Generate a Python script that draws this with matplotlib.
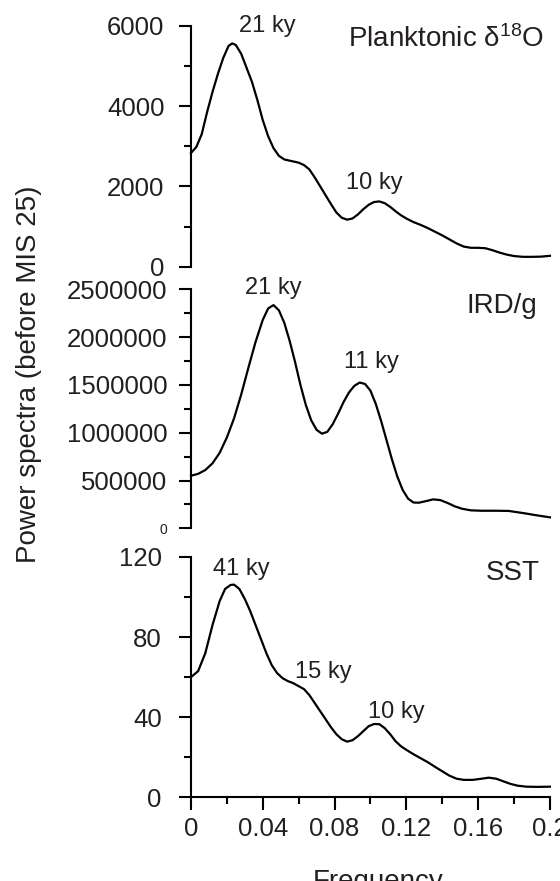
import numpy as np
import matplotlib
matplotlib.use("Agg")
import matplotlib.pyplot as plt
import matplotlib.ticker as ticker

plt.rcParams['font.family'] = ['Liberation Sans', 'DejaVu Sans']
plt.rcParams['mathtext.fontset'] = 'custom'
plt.rcParams['mathtext.rm'] = 'Liberation Sans'
plt.rcParams['mathtext.it'] = 'Liberation Sans'

TXT = '#231f20'

# Planktonic d18O power spectrum
freq_d18o = [0.000, 0.003, 0.006, 0.009, 0.012, 0.015, 0.018, 0.021, 0.023, 0.025,
             0.028, 0.031, 0.034, 0.037, 0.040, 0.043, 0.046, 0.049, 0.052, 0.056,
             0.060, 0.063, 0.066, 0.069, 0.072, 0.075, 0.078, 0.081, 0.084, 0.087,
             0.090, 0.093, 0.096, 0.099, 0.102, 0.105, 0.108, 0.111, 0.114, 0.117,
             0.120, 0.124, 0.128, 0.132, 0.136, 0.140, 0.144, 0.148, 0.152, 0.156,
             0.160, 0.164, 0.168, 0.172, 0.176, 0.180, 0.185, 0.190, 0.195, 0.200]
pow_d18o = [2830, 2980, 3300, 3850, 4350, 4800, 5200, 5500, 5560, 5520,
            5300, 4950, 4600, 4150, 3650, 3250, 2950, 2760, 2670, 2630,
            2590, 2530, 2420, 2220, 2000, 1780, 1560, 1350, 1220, 1170,
            1200, 1300, 1430, 1540, 1610, 1625, 1580, 1490, 1380, 1280,
            1200, 1110, 1040, 960, 870, 780, 680, 580, 500, 470,
            470, 460, 410, 350, 300, 265, 245, 245, 250, 270]

# IRD/g power spectrum
freq_ird = [0.000, 0.004, 0.008, 0.012, 0.016, 0.020, 0.024, 0.028, 0.032, 0.036,
            0.040, 0.043, 0.046, 0.049, 0.052, 0.055, 0.058, 0.061, 0.064, 0.067,
            0.070, 0.073, 0.076, 0.079, 0.082, 0.085, 0.088, 0.091, 0.094, 0.097,
            0.100, 0.103, 0.106, 0.109, 0.112, 0.115, 0.118, 0.121, 0.124, 0.127,
            0.131, 0.135, 0.139, 0.143, 0.147, 0.151, 0.156, 0.162, 0.170, 0.177,
            0.185, 0.192, 0.200]
pow_ird = [550000, 570000, 610000, 680000, 790000, 950000, 1150000, 1400000, 1680000, 1950000,
           2180000, 2300000, 2335000, 2280000, 2150000, 1960000, 1740000, 1500000, 1290000, 1130000,
           1030000, 990000, 1010000, 1090000, 1200000, 1320000, 1420000, 1490000, 1525000, 1510000,
           1440000, 1300000, 1120000, 920000, 720000, 540000, 400000, 310000, 270000, 268000,
           285000, 303000, 295000, 265000, 230000, 205000, 188000, 184000, 184000, 182000,
           160000, 138000, 115000]

# SST power spectrum
freq_sst = [0.000, 0.004, 0.008, 0.012, 0.016, 0.019, 0.022, 0.024, 0.027, 0.030,
            0.033, 0.036, 0.039, 0.042, 0.045, 0.048, 0.051, 0.054, 0.057, 0.060,
            0.063, 0.066, 0.069, 0.072, 0.075, 0.078, 0.081, 0.084, 0.087, 0.090,
            0.093, 0.096, 0.099, 0.102, 0.105, 0.108, 0.111, 0.114, 0.117, 0.120,
            0.124, 0.128, 0.132, 0.136, 0.140, 0.144, 0.148, 0.152, 0.157, 0.162,
            0.166, 0.170, 0.174, 0.178, 0.182, 0.187, 0.193, 0.200]
pow_sst = [60, 63, 72, 86, 98, 104, 106, 106.2, 104, 99,
           93, 86, 79, 72, 66, 62, 59.5, 58, 57, 55.5,
           54, 51, 47, 43, 39, 35, 31.5, 29, 27.8, 28.5,
           30.5, 33, 35.5, 36.6, 36.5, 34.5, 31.5, 28, 25.5, 23.7,
           21.5, 19.5, 17.5, 15.2, 13, 10.8, 9.3, 8.7, 8.7, 9.3,
           9.8, 9.3, 8, 6.7, 5.8, 5.3, 5.2, 5.3]

x_ticks = [0, 0.04, 0.08, 0.12, 0.16, 0.2]
x_ticklabels = ['0', '0.04', '0.08', '0.12', '0.16', '0.2']
ird_ticks = [0, 500000, 1000000, 1500000, 2000000, 2500000]
ird_ticklabels = ['0', '500000', '1000000', '1500000', '2000000', '2500000']

fig = plt.figure(figsize=(5.6, 8.81), dpi=100)
left, width = 0.341, 0.641
ax1 = fig.add_axes([left, 0.6973, width, 0.2735])
ax2 = fig.add_axes([left, 0.4003, width, 0.2713])
ax3 = fig.add_axes([left, 0.0950, width, 0.2728])

def style(ax, ylim, major, minor, pad):
    ax.set_xlim(0, 0.2)
    ax.set_ylim(*ylim)
    for s in ['top', 'right']:
        ax.spines[s].set_visible(False)
    ax.spines['left'].set_linewidth(1.5)
    ax.spines['bottom'].set_linewidth(1.5)
    ax.yaxis.set_major_locator(ticker.MultipleLocator(major))
    ax.yaxis.set_minor_locator(ticker.MultipleLocator(minor))
    ax.tick_params(axis='y', which='major', length=9, width=1.5, labelsize=18.5,
                   pad=pad, colors='black', labelcolor=TXT)
    ax.tick_params(axis='y', which='minor', length=5, width=1.5)
    ax.patch.set_visible(False)

style(ax1, (0, 6000), 2000, 1000, 10)
style(ax2, (0, 2500000), 500000, 250000, 8)
style(ax3, (0, 120), 40, 20, 12)

for ax in (ax1, ax2):
    ax.spines['bottom'].set_visible(False)
    ax.tick_params(axis='x', which='both', bottom=False, labelbottom=False)

ax1.plot(freq_d18o, pow_d18o, color='black', lw=1.6, clip_on=False)
ax2.plot(freq_ird, pow_ird, color='black', lw=1.6, clip_on=False)
ax3.plot(freq_sst, pow_sst, color='black', lw=1.6, clip_on=False)

# the zero label on the IRD panel is printed much smaller
ax2.set_yticks(ird_ticks)
ax2.set_yticklabels(ird_ticklabels)
ax2.set_ylim(0, 2500000)
for lab in ax2.get_yticklabels():
    if lab.get_text() == '0':
        lab.set_fontsize(10)

ax3.set_xticks(x_ticks)
ax3.set_xticklabels(x_ticklabels)
ax3.xaxis.set_minor_locator(ticker.MultipleLocator(0.02))
ax3.tick_params(axis='x', which='major', length=9, width=1.5, labelsize=18.5, pad=5, labelcolor=TXT)
ax3.tick_params(axis='x', which='minor', length=5, width=1.5)

ann = dict(fontsize=17, color=TXT, ha='center', va='baseline')
ax1.text(0.0425, 5842, '21 ky', **ann)
ax1.text(0.102, 1942, '10 ky', **ann)
ax1.text(0.197, 5460, 'Planktonic δ$^{18}$O', fontsize=20, color=TXT, ha='right', va='baseline')

ax2.text(0.0461, 2447000, '21 ky', **ann)
ax2.text(0.1006, 1677000, '11 ky', **ann)
ax2.text(0.1932, 2248000, 'IRD/g', fontsize=20, color=TXT, ha='right', va='baseline')

ax3.text(0.0278, 111.2, '41 ky', **ann)
ax3.text(0.0739, 59.7, '15 ky', **ann)
ax3.text(0.1142, 39.7, '10 ky', **ann)
ax3.text(0.1943, 108.7, 'SST', fontsize=20, color=TXT, ha='right', va='baseline')

fig.text(29 / 560, 1 - 374 / 881, 'Power spectra (before MIS 25)', rotation=90,
         fontsize=20, color=TXT, ha='center', va='center')
fig.text(378 / 560, 1 - 869 / 881, 'Frequency', fontsize=20, color=TXT, ha='center', va='top')

fig.savefig('out.png', dpi=100)
